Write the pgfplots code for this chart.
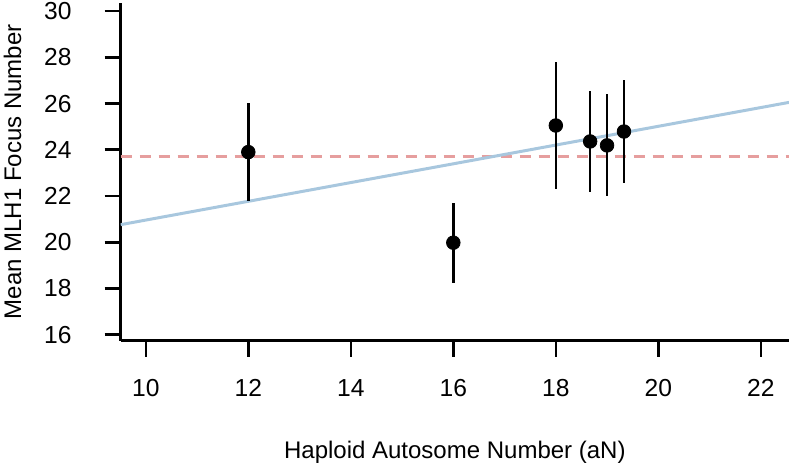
\documentclass[border=0pt]{standalone}
\usepackage{pgfplots}
\pgfplotsset{compat=1.18}
\usepackage{fontspec}
\setmainfont{Liberation Sans}
\definecolor{dashred}{RGB}{230,158,158}
\definecolor{lineblue}{RGB}{168,199,222}
\begin{document}
\fontsize{12}{14}\selectfont
\begin{tikzpicture}
\useasboundingbox (-60.35pt,-63.15pt) rectangle (334.15pt,170.35pt);
\begin{axis}[
  at={(0,0)}, anchor=south west,
  scale only axis, width=334.15pt, height=168.85pt,
  xmin=9.51, xmax=22.55, ymin=15.74, ymax=30.35,
  axis lines*=left,
  axis line style={line width=1.3pt, black},
  xtick={10,12,...,22}, ytick={16,18,...,30},
  tick align=outside, major tick length=8pt,
  tick style={line width=1.3pt, black},
  /pgf/number format/assume math mode=true,
  tick label style={font=\fontsize{12.3}{14}\selectfont},
  xticklabel shift=7pt,
  yticklabel style={anchor=east, inner sep=0pt, xshift=-16.4pt},
  label style={font=\fontsize{12}{14}\selectfont},
  xlabel={Haploid Autosome Number (aN)},
  ylabel={Mean MLH1 Focus Number},
  xlabel style={at={(axis description cs:0.5,-0.3474)}, anchor=base},
  ylabel style={at={(axis description cs:-0.1619,0.5)}, anchor=center},
]
\addplot[dashred, line width=1.5pt, dash pattern=on 5.5pt off 4pt] coordinates {(9.51,23.71) (22.55,23.71)};
\addplot[lineblue, line width=1.5pt] coordinates {(9.51,20.76) (22.55,26.05)};
\addplot[black, only marks, mark=*, mark size=3.4pt,
  error bars/.cd, y dir=both, y explicit, error mark=none,
  error bar style={line width=1.2pt, black}]
  table[x=x, y=y, y error=e] {
x y e
12 23.90 2.12
16 19.98 1.73
18 25.05 2.73
18.67 24.36 2.17
19 24.19 2.21
19.33 24.79 2.21
};
\end{axis}
\end{tikzpicture}
\end{document}
